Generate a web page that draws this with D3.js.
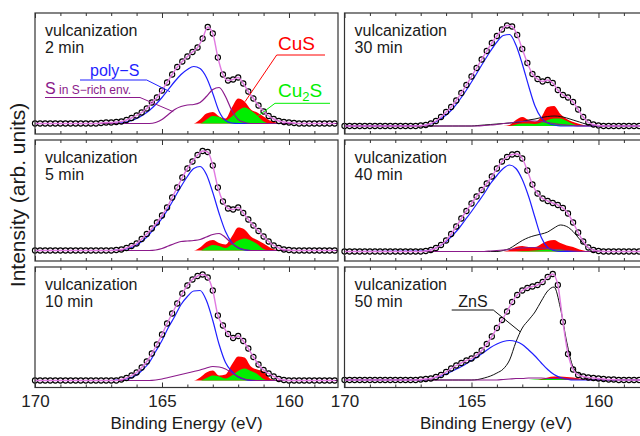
<!DOCTYPE html>
<html>
<head>
<meta charset="utf-8">
<script src="https://cdn.jsdelivr.net/npm/d3@7"></script>
<style>
body { margin: 0; background: #fff; }
svg { display: block; font-family: "Liberation Sans", Arial, sans-serif; }
</style>
</head>
<body>
<svg width="640" height="436"></svg>
<script>
/** Data **/

// panel order: left column top->bottom, then right column top->bottom
const panelTimes = ["2 min", "5 min", "10 min", "30 min", "40 min", "50 min"];
const majorTicks = [170, 165, 160];
const minorTicks = [169, 168, 167, 166, 164, 163, 162, 161, 159];

// energy grid of the measured points (eV)
const scanEnergy = [170,169.8,169.6,169.4,169.2,169,168.8,168.6,168.4,168.2,168,167.8,167.6,167.4,167.2,167,166.8,166.6,166.4,166.2,
                    166,165.8,165.6,165.4,165.2,165,164.8,164.6,164.4,164.2,164,163.8,163.6,163.4,163.2,163,162.8,162.6,162.4,162.2,
                    162,161.8,161.6,161.4,161.2,161,160.8,160.6,160.4,160.2,160,159.8,159.6,159.4,159.2,159,158.8,158.6,158.4,158.2];

// measured intensity (arb. units), one list per panel
const measured = [
  [0,0,0,0,0,0,0,0,0,0,0,0,0,0.5,1,1,1.5,2,3.5,5.5,8,11,15,21,26,33,41,49,56.5,62,67,71.5,76,85,96.5,90,66,49,43,44,46,40,32,25,18,12,7.5,4.5,2.5,1.5,1,0.5,0,0,0,0,0,0,0,0],
  [0,0,0,0,0,0,0,0,0,0,0,0,0,0,0,0,0.5,1,2.5,4.5,7,11.5,16.5,22,28,35,43,53,63,73,82,89,95.5,99.5,98.5,85,63,49,42,41,43,37.5,31,25,19.5,14,9,5,2.5,1,0.5,0,0,0,0,0,0,0,0,0],
  [0,0,0,0,0,0,0,0,0,0,0,0,0,0,0,0,0,1,2.5,5,8,13,19,27,36,46,57,67,77,87,95,101,104.5,106,103,90,65,55,46.5,42.5,44.5,39.5,32,23.5,16,10.5,7,4,1.5,0.5,0,0,0,0,0,0,0,0,0,0],
  [0,0,0,0,0,0,0,0,0,0,0,0,0,0,0,0.5,1,2.5,5,9,14,19,25.5,33,41,49.5,58,66.5,75,83,90,96.5,100.5,99.5,91,77,63,52,47,44.5,46,43,36,31,28.5,24,16.5,9,3.5,1.5,0.5,0,0,0,0,0,0,0,0,0],
  [0,0,0,0,0,0,0,0,0,0,0,0,0,0,0,0,0.5,1.5,3.5,6.5,11,17.5,25,33,40.5,48,55,61.5,68,75,83,90,94.5,97,97.5,93,81,67,58,53,50.5,48.5,46.5,43.5,38,29,19,10,4,1.5,0.5,0,0,0,0,0,0,0,0,0],
  [0,0,0,0,0,0,0,0,0,0,0,0,0,0,0,0.5,1,1.5,3,5,8,11.5,14.5,17,19.5,21.5,25,29.5,36,43.5,52,60,68.5,78,85,89.5,92,93.5,95,98,103,106,95,58,26,10.5,5,3.5,2.5,2,1.5,1,0.5,0.5,0,0,0,0,0,0]
];

// energy grid of the fitted components (eV)
const fitEnergy = [167,166.75,166.5,166.25,166,165.75,165.5,165.25,165,164.75,164.5,164.25,164,163.75,163.5,163.25,
                   163,162.75,162.5,162.25,162,161.75,161.5,161.25,161,160.75,160.5,160.25,160,159.75,159.5];

const polyS = [
  [0,0.5,1,2.5,5,8.5,13,19,26,34,42,49,54,57,55,46,30,12,3,0.5,0,0,0,0,0,0,0,0,0,0,0],
  [0,0.5,1,2.5,5.5,10,16,24,32,42,53,64,74,82,84,76,58,37,19,8,2.5,0.5,0,0,0,0,0,0,0,0,0],
  [0,0.5,1,2.5,5.5,11,18,29,40,53,64,76,84,89.5,90,80,60,36,18,9,3.5,1,0,0,0,0,0,0,0,0,0],
  [0.5,1,3,6.5,11,17,25,34,44,54.5,65,75,84,90.5,91.5,81,62,40,20,8,3,1,0,0,0,0,0,0,0,0,0],
  [0.5,1,2.5,5.5,10,16,23,31.5,40,49,58,68,76,83,86.5,83,72,55,34,14,4,1,0,0,0,0,0,0,0,0,0],
  [0,0.5,2,3.5,6,9,12,15.5,19.5,23.5,28,32.5,36,38.5,39.5,38.5,35.5,30,24,17,10.5,5.5,2.5,1,0,0,0,0,0,0,0]
];
const sRich = [
  [0,0,0,0,0,0,0,1,4,9,14,17,18.5,19,21,27,34,36,27,13,4,1,0,0,0,0,0,0,0,0,0],
  [0,0,0,0,0,0,0,0.5,2,4.5,7,9,9.5,10,11,13.5,16,17,13,7,3,1,0,0,0,0,0,0,0,0,0],
  [0,0,0,0,0,0,0,0.5,1.5,3,4.5,6,7.5,9,10.5,12.5,14,13.5,11.5,7.5,4,1.5,0.5,0,0,0,0,0,0,0,0],
  [0,0,0,0,0,0,0,0,0,0,0.5,1,1.5,2.5,3,4,4.5,5,5,4.5,3.5,2.5,1.5,1,0.5,0,0,0,0,0,0],
  [0,0,0,0,0,0,0,0,0,0,0,0.5,1,1.5,2,3,3.5,4,4,3.5,3,2,1.5,1,0.5,0,0,0,0,0,0],
  [0,0,0,0,0,0,0,0,0,0,0,0,0,0.5,1,1.5,1.5,2,2,2,1.5,1.5,1.5,1,1,0.5,0.5,0,0,0,0]
];
const cuS = [
  [0,0,0,0,0,0,0,0,0,0,0,0,0,0,4,10,11.5,7,5,16,25,22,14,11,7,3,1,0,0,0,0],
  [0,0,0,0,0,0,0,0,0,0,0,0,0,0,3,8.5,10.5,7.5,6,14,23,21,14,10.5,7,3,0.5,0,0,0,0],
  [0,0,0,0,0,0,0,0,0,0,0,0,0,0,3,8,10,5,6,16,24,23,14,11,9,2,0,0,0,0,0],
  [0,0,0,0,0,0,0,0,0,0,0,0,0,0,1,6,9,6,4.5,9,19,20,12,7,4,2,0.5,0,0,0,0],
  [0,0,0,0,0,0,0,0,0,0,0,0,0,0,1.5,4.5,5.5,4.5,4.5,7.5,10.5,11.5,8.5,6,4.5,2,0.5,0,0,0,0],
  [0,0,0,0,0,0,0,0,0,0,0,0,0,0,0,0,0,0,0,1,2.5,3.5,3.5,3,2.5,1.5,0.5,0,0,0,0]
];
const cu2S = [
  [0,0,0,0,0,0,0,0,0,0,0,0,0,0,0,4,7.5,6.5,3,7,13,16,13,8,2,0,0,0,0,0,0],
  [0,0,0,0,0,0,0,0,0,0,0,0,0,0,0,3,5.5,4.5,2.5,6,10,12,10,6.5,1.5,0,0,0,0,0,0],
  [0,0,0,0,0,0,0,0,0,0,0,0,0,0,0,2.5,5,4,2,5,9.5,12,9.5,6.5,1.5,0,0,0,0,0,0],
  [0,0,0,0,0,0,0,0,0,0,0,0,0,0,0,1.5,2.5,2.5,2,3.5,6,7.5,7.5,5,2,0.5,0,0,0,0,0],
  [0,0,0,0,0,0,0,0,0,0,0,0,0,0,0,0,0.5,0.5,1,1.5,2,2.5,2,1,0.5,0,0,0,0,0,0],
  [0,0,0,0,0,0,0,0,0,0,0,0,0,0,0,0,0,0,0.5,0.5,1,1,1,0.5,0.5,0,0,0,0,0,0]
];
// ZnS only appears in the long vulcanization times
const znS = [
  null,
  null,
  null,
  [0,0,0,0,0,0,0,0,0,0.5,1,1.5,2,2.5,3,3.5,4.5,6,7,8.5,9.5,10,9.5,8,6,4,2,1,0,0,0],
  [0,0,0,0,0,0,0,0,0,0,0,0,0,1,3,7,11,14,16,17.5,19.5,23.5,26.5,25,20,12.5,5.5,2,0.5,0,0],
  [0,0,0,0,0,0,0,0,0,0.5,2,4,7,11,20,38,52,60,68,79,89,93,72,38,13,6,2,0.5,0,0,0]
];

/** Layout **/
const colLeft = [35, 344.5];
const panelWidth = 303;
const rowTop = [13, 140, 267];
const rowHeight = [121, 121, 120.5];
const baseOffset = [10.5, 10.5, 7, 8, 9.5, 7.5];   // zero line above the panel bottom

const colors = {
  frame: "#333",
  polyS: "#1f1fff",
  sRich: "#8b1a8b",
  cuS: "#ff0000",
  cu2S: "#00ee00",
  znS: "#111",
  fit: "#e07ae0"
};

let svg;

function setup_svg(){
  svg = d3.select("svg");
}

/** Component values padded with zeros to the panel edges **/
function component_points(vals){
  return [[170, 0]].concat(fitEnergy.map((e, i) => [e, vals[i]])).concat([[158.07, 0]]);
}

function draw_panel(p){
  const col = Math.floor(p / 3), row = p % 3;
  const left = colLeft[col], top = rowTop[row], bottom = top + rowHeight[row];
  const g = svg.append("g").attr("class", "panel");

  const xScale = d3.scaleLinear()
    .domain([170, 158.07])
    .range([left, left + panelWidth]);
  const zero = bottom - baseOffset[p];
  const yScale = d3.scaleLinear()
    .domain([0, 100])
    .range([zero, zero - 100]);

  // filled Cu sulphide components
  const area = d3.area()
    .x(d => xScale(d[0]))
    .y0(yScale(0))
    .y1(d => yScale(d[1]))
    .curve(d3.curveMonotoneX);
  g.append("path").attr("d", area(component_points(cuS[p]))).attr("fill", colors.cuS);
  g.append("path").attr("d", area(component_points(cu2S[p]))).attr("fill", colors.cu2S);

  // line components
  const line = d3.line()
    .x(d => xScale(d[0]))
    .y(d => yScale(d[1]))
    .curve(d3.curveMonotoneX);
  if(znS[p]){
    g.append("path").attr("d", line(component_points(znS[p])))
      .attr("fill", "none").attr("stroke", colors.znS).attr("stroke-width", 1);
  }
  g.append("path").attr("d", line(component_points(polyS[p])))
    .attr("fill", "none").attr("stroke", colors.polyS).attr("stroke-width", 1.2);
  g.append("path").attr("d", line(component_points(sRich[p])))
    .attr("fill", "none").attr("stroke", colors.sRich).attr("stroke-width", 1.2);

  // measured points
  const pts = scanEnergy.map((e, i) => [e, measured[p][i]]);
  g.selectAll("circle.meas")
    .data(pts)
    .enter()
    .append("circle")
      .attr("class", "meas")
      .attr("cx", d => xScale(d[0]))
      .attr("cy", d => yScale(d[1]))
      .attr("r", 2.6)
      .attr("fill", "none")
      .attr("stroke", "#000")
      .attr("stroke-width", 1.1);

  // fit envelope
  g.append("path").attr("d", line(pts))
    .attr("fill", "none").attr("stroke", colors.fit).attr("stroke-width", 1.4);

  // frame
  g.append("rect")
    .attr("x", left).attr("y", top)
    .attr("width", panelWidth).attr("height", bottom - top)
    .attr("fill", "none").attr("stroke", colors.frame).attr("stroke-width", 1.2);

  // inward ticks top and bottom
  const axes = [
    [d3.axisBottom(xScale).tickValues(minorTicks).tickSize(-3).tickFormat(""), bottom],
    [d3.axisTop(xScale).tickValues(minorTicks).tickSize(-3).tickFormat(""), top],
    [d3.axisTop(xScale).tickValues(majorTicks).tickSize(-5).tickFormat(""), top]
  ];
  axes.forEach(([ax, ty]) => {
    const a = g.append("g").attr("transform", "translate(0," + ty + ")").call(ax);
    a.select(".domain").remove();
    a.selectAll("line").attr("stroke", colors.frame);
  });
  const major = g.append("g")
    .attr("transform", "translate(0," + bottom + ")")
    .call(d3.axisBottom(xScale).tickValues(majorTicks).tickSize(-5).tickPadding(7.5)
      .tickFormat(row === 2 ? d3.format("d") : ""));
  major.select(".domain").remove();
  major.selectAll("line").attr("stroke", colors.frame);
  major.selectAll("text")
    .attr("font-size", 17).attr("fill", "#222")
    .attr("font-family", "Liberation Sans, Arial, sans-serif");

  // panel title
  const title = g.append("text")
    .attr("font-size", 16).attr("fill", "#1a1a1a");
  title.append("tspan").attr("x", left + 10).attr("y", top + 23).text("vulcanization");
  title.append("tspan").attr("x", left + 10).attr("y", top + 40.3).text(panelTimes[p]);

  return { g: g, left: left, top: top };
}

/** Leader line: underline then a slanted stroke to the curve **/
function leader(g, pts, color){
  g.append("polyline")
    .attr("points", pts.map(d => d.join(",")).join(" "))
    .attr("fill", "none").attr("stroke", color).attr("stroke-width", 1);
}

function label_first_panel(pan){
  const g = pan.g, L = pan.left, T = pan.top;

  g.append("text").attr("x", L + 55).attr("y", T + 63)
    .attr("font-size", 16).attr("fill", colors.polyS).text("poly\u2212S");
  leader(g, [[L + 45, T + 67], [L + 111.7, T + 67], [L + 135, T + 78.7]], colors.polyS);

  const s = g.append("text").attr("x", L + 10).attr("y", T + 81).attr("fill", colors.sRich);
  s.append("tspan").attr("font-size", 16).text("S");
  s.append("tspan").attr("font-size", 12).text(" in S\u2212rich env.");
  leader(g, [[L + 10, T + 84.5], [L + 105, T + 84.5], [L + 138.3, T + 98.7]], colors.sRich);

  g.append("text").attr("x", L + 243).attr("y", T + 37)
    .attr("font-size", 19).attr("fill", colors.cuS).text("CuS");
  leader(g, [[L + 290, T + 42], [L + 241.7, T + 42], [L + 210, T + 88.7]], colors.cuS);

  const c = g.append("text").attr("x", L + 243).attr("y", T + 83.7)
    .attr("font-size", 19).attr("fill", colors.cu2S);
  c.append("tspan").text("Cu");
  c.append("tspan").attr("font-size", 13).attr("dy", 4).text("2");
  c.append("tspan").attr("dy", -4).text("S");
  leader(g, [[L + 295, T + 90.3], [L + 240, T + 90.3], [L + 220, T + 105.3]], colors.cu2S);
}

function label_last_panel(pan){
  const g = pan.g, L = pan.left, T = pan.top;
  g.append("text").attr("x", L + 113.8).attr("y", T + 39.7)
    .attr("font-size", 16).attr("fill", "#1a1a1a").text("ZnS");
  leader(g, [[L + 107.2, T + 43], [L + 148.8, T + 43], [L + 175.5, T + 64.7]], "#111");
}

function setup_axis_titles(){
  svg.append("text")
    .attr("transform", "translate(25,195) rotate(-90)")
    .attr("text-anchor", "middle")
    .attr("font-size", 21).attr("fill", "#1a1a1a")
    .text("Intensity (arb. units)");

  colLeft.forEach(l => {
    svg.append("text")
      .attr("x", l + panelWidth / 2).attr("y", 429)
      .attr("text-anchor", "middle")
      .attr("font-size", 17).attr("fill", "#1a1a1a")
      .text("Binding Energy (eV)");
  });
}

setup_svg();
const panels = panelTimes.map((t, p) => draw_panel(p));
label_first_panel(panels[0]);
label_last_panel(panels[5]);
setup_axis_titles();
</script>
</body>
</html>
